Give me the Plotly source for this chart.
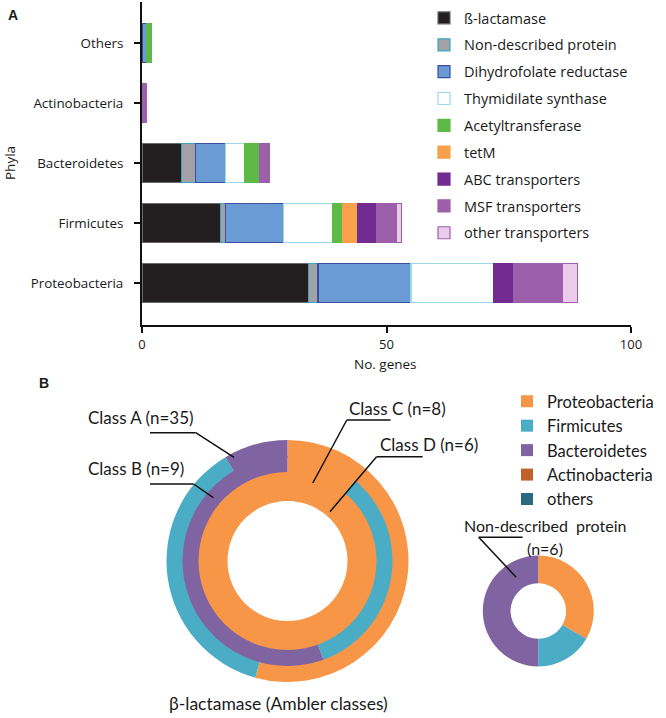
import plotly.graph_objects as go

W, H = 666, 718

# ---------------- data: panel A ----------------
phyla = ["Proteobacteria", "Firmicutes", "Bacteroidetes", "Actinobacteria", "Others"]
beta_lactamase = [34, 16, 8, 0, 0]
non_described = [2, 1, 3, 0, 0]
dihydrofolate = [19, 12, 6, 0, 1]
thymidilate = [17, 10, 4, 0, 0]
acetyltransferase = [0, 2, 3, 0, 1]
tetm = [0, 3, 0, 0, 0]
abc_transporters = [4, 4, 0, 0, 0]
msf_transporters = [10, 4, 2, 1, 0]
other_transporters = [3, 1, 0, 0, 0]
x_ticks = [0, 50, 100]

# ---------------- data: panel B ----------------
pie_labels = ["Proteobacteria", "Firmicutes", "Bacteroidetes", "Actinobacteria", "others"]
class_a = [19, 13, 3, 0, 0]
class_b = [1, 3, 5, 0, 0]
class_c = [8, 0, 0, 0, 0]
class_d = [6, 0, 0, 0, 0]
nondescribed_pie = [2, 1, 3, 0, 0]
pie_colors = ["#f79646", "#4bacc6", "#8064a2", "#c0602a", "#2a6a80"]


def px(x):
    return x / W


def py(y):
    return 1 - y / H


FA = "Open Sans"
FB = "Lato"

fig = go.Figure()

series = [
    ("ß-lactamase", beta_lactamase, "#231f20", "#6b6b6b"),
    ("Non-described protein", non_described, "#a2a2a4", "#39a7c4"),
    ("Dihydrofolate reductase", dihydrofolate, "#6a9bd5", "#3b4ea0"),
    ("Thymidilate synthase", thymidilate, "#ffffff", "#9bd8ec"),
    ("Acetyltransferase", acetyltransferase, "#5dba47", "#5dba47"),
    ("tetM", tetm, "#f8a04a", "#f8a04a"),
    ("ABC transporters", abc_transporters, "#722b90", "#722b90"),
    ("MSF transporters", msf_transporters, "#9d5fa9", "#9d5fa9"),
    ("other transporters", other_transporters, "#ebcbeb", "#9d5fa9"),
]
for i, (name, vals, fill, line) in enumerate(series):
    fig.add_trace(go.Bar(
        y=phyla, x=[v if v else None for v in vals], name=name, orientation="h",
        marker=dict(color=fill, line=dict(color=line, width=1.2)),
        width=0.65, legendgroup=f"g{i}", legend="legend",
    ))

# ---------------- donuts ----------------
cx, cy = 287.5, 561
radii = [121, 105, 89, 74.5, 60]
rings = [class_a, class_b, class_c, class_d]
for k, vals in enumerate(rings):
    r_out, r_in = radii[k], radii[k + 1]
    inner = r_in - 1.5 if k < len(rings) - 1 else r_in  # slight overlap hides seams
    fig.add_trace(go.Pie(
        labels=pie_labels, values=vals, sort=False, direction="clockwise", rotation=0,
        hole=inner / r_out, textinfo="none", hoverinfo="label+value",
        marker=dict(colors=pie_colors, line=dict(width=0)),
        domain=dict(x=[px(cx - r_out), px(cx + r_out)], y=[py(cy + r_out), py(cy - r_out)]),
        showlegend=(k == 0), legend="legend2",
    ))

scx, scy, sr = 538.3, 611, 55.5
fig.add_trace(go.Pie(
    labels=pie_labels, values=nondescribed_pie, sort=False, direction="clockwise", rotation=0,
    hole=0.5, textinfo="none", marker=dict(colors=pie_colors, line=dict(width=0)),
    domain=dict(x=[px(scx - sr), px(scx + sr)], y=[py(scy + sr), py(scy - sr)]),
    showlegend=False, legend="legend2",
))

# ---------------- annotations ----------------
ann = []


def text(x, y, s, size, family, xanchor="left", bold=False, angle=0):
    ann.append(dict(x=px(x), y=py(y), xref="paper", yref="paper", text=f"<b>{s}</b>" if bold else s,
                    showarrow=False, xanchor=xanchor, yanchor="middle", textangle=angle,
                    font=dict(family=family, size=size, color="#1a1a1a")))


text(6, 15, "A", 14, "Liberation Sans", bold=True)
text(37, 383, "B", 14, "Liberation Sans", bold=True)
text(10, 163, "Phyla", 13.5, FA, xanchor="center", angle=-90)
text(385, 364, "No. genes", 13.5, FA, xanchor="center")
text(86, 417, "Class A (n=35)", 17, FB)
text(86, 468, "Class B (n=9)", 17, FB)
text(347, 408, "Class C (n=8)", 17, FB)
text(378, 444, "Class D (n=6)", 17, FB)
text(545, 525, "Non-described&nbsp;&nbsp;protein", 16, FB, xanchor="center")
text(545, 548, "(n=6)", 16, FB, xanchor="center")
text(278, 703, "β-lactamase (Ambler classes)", 17.5, FB, xanchor="center")

shapes = []


def seg(x0, y0, x1, y1):
    shapes.append(dict(type="line", xref="paper", yref="paper", x0=px(x0), y0=py(y0), x1=px(x1), y1=py(y1),
                       line=dict(color="#111111", width=1.5)))


seg(150, 432.7, 195.7, 432.7); seg(195.7, 432.7, 234, 457.3)
seg(150, 484, 193.6, 484); seg(193.6, 484, 213.3, 497.7)
seg(346.8, 420, 390.6, 420); seg(346.8, 420, 312.8, 483)
seg(376.6, 456.7, 422.6, 456.7); seg(376.6, 456.7, 330, 511.7)
seg(478.7, 537.3, 522.6, 537.3); seg(478.7, 537.3, 516.2, 577.3)

fig.update_layout(
    width=W, height=H, margin=dict(l=0, r=0, t=0, b=0),
    paper_bgcolor="white", plot_bgcolor="white",
    barmode="stack", bargap=0.35,
    font=dict(family=FA, size=12, color="#1a1a1a"),
    xaxis=dict(domain=[px(142), px(631)], range=[0, 100], tickvals=x_ticks, showline=True,
               linecolor="#111111", linewidth=2, ticks="outside", ticklen=6, tickwidth=2,
               tickcolor="#111111", showgrid=False, zeroline=False, automargin=False,
               tickfont=dict(family=FA, size=13)),
    yaxis=dict(domain=[py(325), py(2)], type="category", categoryorder="array", categoryarray=phyla,
               range=[-0.695, 4.69], showline=True, linecolor="#111111", linewidth=2, ticks="outside",
               ticklen=6, tickwidth=2, tickcolor="#111111", showgrid=False, zeroline=False,
               automargin=False, ticklabelstandoff=8, tickfont=dict(family=FA, size=13.4)),
    legend=dict(x=px(424), y=py(2), xanchor="left", yanchor="top", traceorder="grouped",
                tracegroupgap=5, font=dict(family=FA, size=14.5), bgcolor="rgba(0,0,0,0)"),
    legend2=dict(x=px(507), y=py(384), xanchor="left", yanchor="top", tracegroupgap=0,
                 font=dict(family=FB, size=16.5), bgcolor="rgba(0,0,0,0)", itemwidth=30),
    annotations=ann, shapes=shapes,
)

fig.write_html("out.html", config={"displayModeBar": False},
               post_script="document.body.style.margin='0px';")
